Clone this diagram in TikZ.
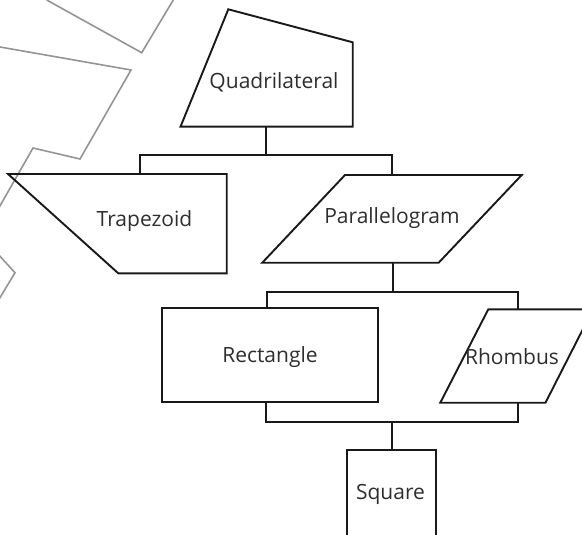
\documentclass[tikz,border=0pt]{standalone}
\usepackage{fontspec}
\setmainfont{Open Sans}
\begin{document}
\begin{tikzpicture}[x=1pt,y=-1pt,
  shapeline/.style={draw=black!90,line width=1.9pt,line join=miter},
  link/.style={draw=black!90,line width=1.9pt},
  deco/.style={draw=black!42,line width=1.6pt},
  lbl/.style={inner sep=0pt,text=black!82,font=\fontsize{21}{25}\selectfont}]
\useasboundingbox (0,0) rectangle (582,535);
\clip (0,0) rectangle (582,535);
% decorative gray lines
\draw[deco] (46.7,0) -- (141.7,52.7) -- (173.3,0);
\draw[deco] (-10,45.2) -- (0,47) -- (131,70) -- (80,159) -- (33,148) -- (-5,214.6);
\draw[deco] (-5,250.8) -- (15,272.7) -- (-5,306);
% shapes
\draw[shapeline] (228.3,9.3) -- (352.7,42.3) -- (352.7,126.7) -- (180.5,126.7) -- cycle;
\draw[shapeline] (8,174) -- (226.7,174) -- (226.7,273.3) -- (118.3,273.3) -- cycle;
\draw[shapeline] (345,175) -- (521.7,175) -- (438.7,262.7) -- (262.3,262.7) -- cycle;
\draw[shapeline] (162.3,308.3) rectangle (378.3,401.7);
\draw[shapeline] (488.3,309.3) -- (593,309.3) -- (545.5,402.7) -- (440.3,402.7) -- cycle;
\draw[shapeline] (347,560) -- (347,450) -- (436,450) -- (436,560);
% labels
\node[lbl] (quad) at (274,82) {Quadrilateral};
\node[lbl] (trap) at (144.5,221) {Trapezoid};
\node[lbl] (para) at (392,218) {Parallelogram};
\node[lbl] (rect) at (270,357) {Rectangle};
\node[lbl] (rhom) at (512,357) {Rhombus};
\node[lbl] (squa) at (390.5,494) {Square};
% connector anchor points
\coordinate (quadS) at (266,126.7);
\coordinate (trapN) at (140,174);
\coordinate (paraN) at (392,175);
\coordinate (paraS) at (392.7,262.7);
\coordinate (rectN) at (266.7,308.3);
\coordinate (rhomN) at (518.3,309.3);
\coordinate (rectS) at (266,401.7);
\coordinate (rhomS) at (518.3,402.7);
\coordinate (squaN) at (391.7,450);
% connectors
\draw[link] (quadS) -- ++(0,28.3);
\draw[link] (trapN) -- ++(0,-19) -| (paraN);
\draw[link] (paraS) -- ++(0,29);
\draw[link] (rectN) -- ++(0,-16.6) -| (rhomN);
\draw[link] (rectS) -- ++(0,20) -| (rhomS);
\draw[link] (squaN) -- ++(0,-28.3);
\end{tikzpicture}
\end{document}
